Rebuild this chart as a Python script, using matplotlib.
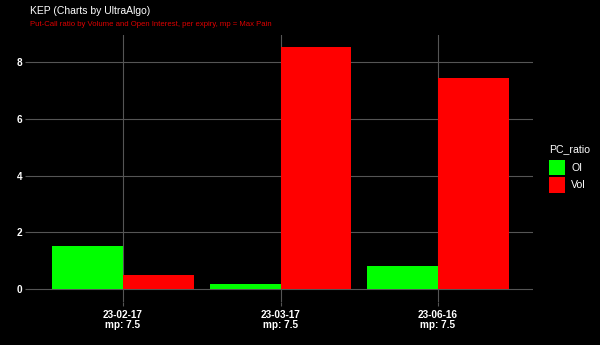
import matplotlib
matplotlib.use("Agg")
import matplotlib.pyplot as plt
from matplotlib.patches import Rectangle
import numpy as np

expiries = ["23-02-17", "23-03-17", "23-06-16"]
max_pain = ["7.5", "7.5", "7.5"]
oi_ratio = [1.52, 0.19, 0.82]
vol_ratio = [0.50, 8.51, 7.42]
series_names = ["OI", "Vol"]
colors = ["#00ff00", "#ff0000"]
yticks = [0, 2, 4, 6, 8]

plt.rcParams['font.family'] = ['Liberation Sans', 'DejaVu Sans']

W, H = 600, 345
fig = plt.figure(figsize=(W / 100, H / 100), dpi=100, facecolor="black")
ax = fig.add_axes([28.5 / W, (H - 301.5) / H, 504 / W, (301.5 - 35) / H])
ax.set_facecolor("black")

x = np.arange(1, len(expiries) + 1)
bw = 0.45
ax.bar(x - bw / 2, oi_ratio, width=bw, color=colors[0], zorder=3)
ax.bar(x + bw / 2, vol_ratio, width=bw, color=colors[1], zorder=3)

ymax = max(max(oi_ratio), max(vol_ratio))
ax.set_xlim(0.4, 3.6)
ax.set_ylim(-0.05 * ymax, 1.05 * ymax)

ax.set_xticks(x)
ax.set_xticklabels([f"{e}\nmp: {m}" for e, m in zip(expiries, max_pain)],
                   fontsize=7.2, fontweight="bold", color="white", linespacing=1.05)
ax.set_yticks(yticks)
ax.set_yticklabels([str(t) for t in yticks], fontsize=7.2, fontweight="bold", color="white")
ax.tick_params(axis="both", colors="#555555", length=3, width=0.8, labelcolor="white")
ax.tick_params(axis="x", pad=3)
ax.tick_params(axis="y", pad=1.5)
ax.grid(True, color="#555555", linewidth=0.8, zorder=0)
for s in ax.spines.values():
    s.set_visible(False)

fig.text(30 / W, 1 - 11 / H, "KEP (Charts by UltraAlgo)", color="white", fontsize=7.5, va="center", ha="left")
fig.text(30 / W, 1 - 24 / H, "Put-Call ratio by Volume and Open Interest, per expiry, mp = Max Pain",
         color="#dd0000", fontsize=5.55, va="center", ha="left")

# legend drawn in figure pixel coordinates
fig.text(549 / W, 1 - 149 / H, "PC_ratio", color="white", fontsize=7.6, va="center", ha="left")
for i, (name, c) in enumerate(zip(series_names, colors)):
    top = 160 + i * 17
    fig.patches.append(Rectangle((549 / W, 1 - (top + 15.5) / H), 16 / W, 15.5 / H,
                                 transform=fig.transFigure, facecolor=c, edgecolor="none"))
    fig.text(571 / W, 1 - (top + 8) / H, name, color="white", fontsize=7.6, va="center", ha="left")

fig.savefig("out.png", dpi=100, facecolor="black")
